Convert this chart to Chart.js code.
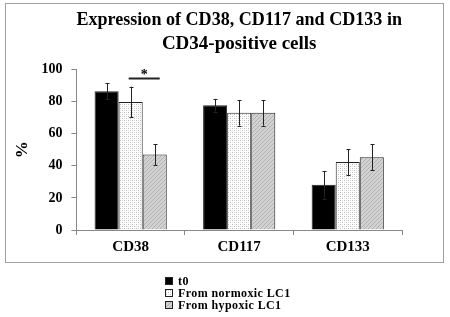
<!DOCTYPE html>
<html><head><meta charset="utf-8">
<script src="https://cdn.jsdelivr.net/npm/chart.js@4"></script>
<style>
html,body{margin:0;padding:0;background:#fff;}
#wrap{position:relative;width:450px;height:317px;}
#frame{position:absolute;left:5px;top:3px;width:437px;height:258px;border:1px solid #a0a0a0;pointer-events:none;}
</style></head>
<body>
<div id="wrap"><canvas id="c" width="450" height="317"></canvas><div id="frame"></div></div>
<script>
const categories = ['CD38', 'CD117', 'CD133'];
const seriesNames = ['t0', 'From normoxic LC1', 'From hypoxic LC1'];
const t0 = [86.5, 77.7, 28.2];
const normoxic = [79.8, 73, 42.3];
const hypoxic = [47, 73, 45.4];
const t0Err = [5, 4, 8.6];
const normoxicErr = [9.5, 8, 8];
const hypoxicErr = [6.5, 8, 8];
const yTickMin = 0, yTickMax = 100, yTickStep = 20;
const titleLines = ['Expression of CD38, CD117 and CD133 in', 'CD34-positive cells'];
const yTitle = '%';
const significance = [{category: 0, from: 1, to: 2, value: 94.7, label: '*'}];

function makePattern(kind) {
  const c = document.createElement('canvas');
  c.width = 4; c.height = 4;
  const x = c.getContext('2d');
  if (kind === 'dots') {
    x.fillStyle = '#ffffff'; x.fillRect(0, 0, 4, 4);
    x.fillStyle = '#b8b8b8';
    x.fillRect(0, 0, 1, 1); x.fillRect(2, 2, 1, 1);
    x.fillStyle = '#e0e0e0';
    x.fillRect(2, 0, 1, 1); x.fillRect(0, 2, 1, 1);
  } else {
    x.fillStyle = '#d2d2d2'; x.fillRect(0, 0, 4, 4);
    x.fillStyle = '#b0b0b0';
    x.fillRect(0, 0, 1, 1); x.fillRect(2, 2, 1, 1);
    x.fillRect(1, 3, 1, 1); x.fillRect(3, 1, 1, 1);
  }
  return x.createPattern(c, 'repeat');
}
const ctx = document.getElementById('c').getContext('2d');
const fills = ['#000000', makePattern('dots'), makePattern('hatch')];
const errs = [t0Err, normoxicErr, hypoxicErr];
const serif = "'Liberation Serif', 'Times New Roman', serif";

const errorBars = {
  id: 'errorBars',
  afterDatasetsDraw(chart) {
    const c = chart.ctx, y = chart.scales.y;
    c.save();
    c.strokeStyle = '#222'; c.lineWidth = 1;
    chart.data.datasets.forEach((ds, di) => {
      const meta = chart.getDatasetMeta(di);
      meta.data.forEach((bar, i) => {
        const v = ds.data[i], e = errs[di][i];
        const x = Math.round(bar.x) + 0.5;
        const yt = y.getPixelForValue(v + e), yb = y.getPixelForValue(v - e);
        c.beginPath();
        c.moveTo(x, yt); c.lineTo(x, yb);
        c.moveTo(x - 2, Math.round(yt) + 0.5); c.lineTo(x + 2, Math.round(yt) + 0.5);
        c.moveTo(x - 2, Math.round(yb) + 0.5); c.lineTo(x + 2, Math.round(yb) + 0.5);
        c.stroke();
      });
    });
    significance.forEach(s => {
      const a = chart.getDatasetMeta(s.from).data[s.category];
      const b = chart.getDatasetMeta(s.to).data[s.category];
      const yy = Math.round(y.getPixelForValue(s.value)) + 0.5;
      c.lineWidth = 2;
      c.beginPath(); c.moveTo(a.x - 2, yy); c.lineTo(b.x + 5, yy); c.stroke();
      c.fillStyle = '#000';
      c.font = 'bold 14px ' + serif;
      c.textAlign = 'center'; c.textBaseline = 'bottom';
      c.fillText(s.label, (a.x + b.x) / 2 + 1.5, yy + 4);
    });
    c.restore();
  }
};

const customLegend = {
  id: 'customLegend',
  afterDraw(chart) {
    const c = chart.ctx;
    const x0 = 165, y0 = chart.chartArea.bottom + 51, step = 12;
    c.save();
    c.font = 'bold 12px ' + serif;
    c.letterSpacing = '0.4px';
    c.textBaseline = 'middle'; c.textAlign = 'left';
    chart.data.datasets.forEach((ds, i) => {
      const yy = y0 + i * step;
      c.fillStyle = ds.backgroundColor;
      c.fillRect(x0, yy - 4, 8, 8);
      c.strokeStyle = '#222'; c.lineWidth = 1;
      c.strokeRect(x0 + 0.5, yy - 3.5, 7, 7);
      c.fillStyle = '#000';
      c.fillText(ds.label, x0 + 13, yy + 0.5);
    });
    c.restore();
  }
};

new Chart(ctx, {
  type: 'bar',
  data: {
    labels: categories,
    datasets: [
      {label: seriesNames[0], data: t0, backgroundColor: fills[0], borderColor: '#222', borderWidth: 1},
      {label: seriesNames[1], data: normoxic, backgroundColor: fills[1], borderColor: '#222', borderWidth: 1},
      {label: seriesNames[2], data: hypoxic, backgroundColor: fills[2], borderColor: '#222', borderWidth: 1}
    ]
  },
  options: {
    responsive: false,
    animation: false,
    events: [],
    layout: {padding: {left: 12, right: 48, top: 4, bottom: 58}},
    datasets: {bar: {categoryPercentage: 0.665, barPercentage: 1.0}},
    plugins: {
      legend: {display: false},
      tooltip: {enabled: false},
      title: {
        display: true, text: titleLines, fullSize: false,
        color: '#000', font: {family: serif, size: 19, weight: 'bold', lineHeight: 1.25},
        padding: {top: 4, bottom: 14}
      }
    },
    scales: {
      x: {
        grid: {offset: true, drawOnChartArea: false, drawTicks: true, tickLength: 5, color: '#888'},
        border: {color: '#888'},
        ticks: {color: '#000', font: {family: serif, size: 15, weight: 'bold'}, padding: 3}
      },
      y: {
        min: yTickMin, max: yTickMax,
        grid: {drawOnChartArea: false, drawTicks: true, tickLength: 5, color: '#888'},
        border: {color: '#888'},
        ticks: {stepSize: yTickStep, color: '#000', font: {family: serif, size: 14, weight: 'bold'}, padding: 9},
        title: {display: true, text: yTitle, color: '#000', font: {family: serif, size: 17, weight: 'bold'}, padding: {top: 0, bottom: 0}}
      }
    }
  },
  plugins: [errorBars, customLegend]
});
</script>
</body></html>
